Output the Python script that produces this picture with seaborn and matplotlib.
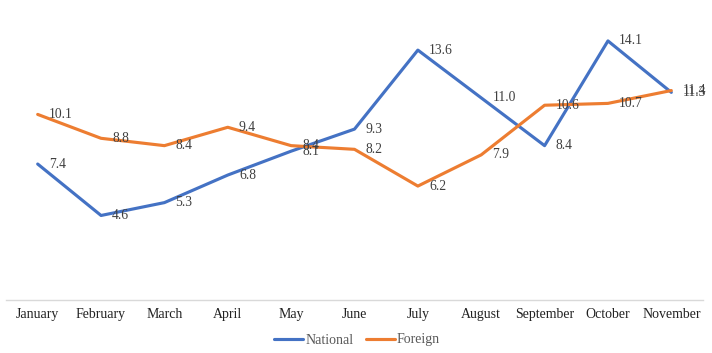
import matplotlib
matplotlib.use("Agg")
import matplotlib.pyplot as plt
import seaborn as sns
import pandas as pd
from matplotlib.lines import Line2D

months = ["January", "February", "March", "April", "May", "June", "July",
          "August", "September", "October", "November"]
national = [7.4, 4.6, 5.3, 6.8, 8.1, 9.3, 13.6, 11.0, 8.4, 14.1, 11.3]
foreign = [10.1, 8.8, 8.4, 9.4, 8.4, 8.2, 6.2, 7.9, 10.6, 10.7, 11.4]
series_names = ["National", "Foreign"]
colors = ["#4472C4", "#ED7D31"]

sns.set_theme(style="white")
plt.rcParams['font.family'] = ['Liberation Serif', 'DejaVu Serif']

df = pd.DataFrame({
    "month": months * 2,
    "x": list(range(len(months))) * 2,
    "value": national + foreign,
    "series": [series_names[0]] * len(months) + [series_names[1]] * len(months),
})

fig = plt.figure(figsize=(7.12, 3.53), dpi=100)
ax = fig.add_axes([6 / 712, 53 / 353, 697 / 712, 294 / 353])
sns.lineplot(data=df, x="x", y="value", hue="series", palette=colors,
             linewidth=2.25, ax=ax, legend=False, sort=False)

for vals in (national, foreign):
    for i, v in enumerate(vals):
        ax.annotate(f"{v:.1f}", (i, v), xytext=(8, 0), textcoords="offset points",
                    ha="left", va="center", fontsize=9.8, color="#404040")

ax.set_xlim(-0.5, len(months) - 0.5)
ax.set_ylim(0, 16)
ax.set_xticks(range(len(months)))
ax.set_xticklabels(months, fontsize=10, color="#222222")
ax.tick_params(axis="x", length=0, pad=6)
ax.set_yticks([])
ax.set_xlabel("")
ax.set_ylabel("")
for s in ["top", "left", "right"]:
    ax.spines[s].set_visible(False)
ax.spines["bottom"].set_color("#D9D9D9")
ax.spines["bottom"].set_linewidth(1)

handles = [Line2D([0], [0], color=c, lw=2.25) for c in colors]
leg = fig.legend(handles, series_names, loc="center", bbox_to_anchor=(357 / 712, 1 - 340 / 353),
                 ncol=2, frameon=False, fontsize=10, handlelength=2.1, handletextpad=0.15,
                 columnspacing=0.9)
for t in leg.get_texts():
    t.set_color("#595959")

fig.savefig("out.png", dpi=100)
